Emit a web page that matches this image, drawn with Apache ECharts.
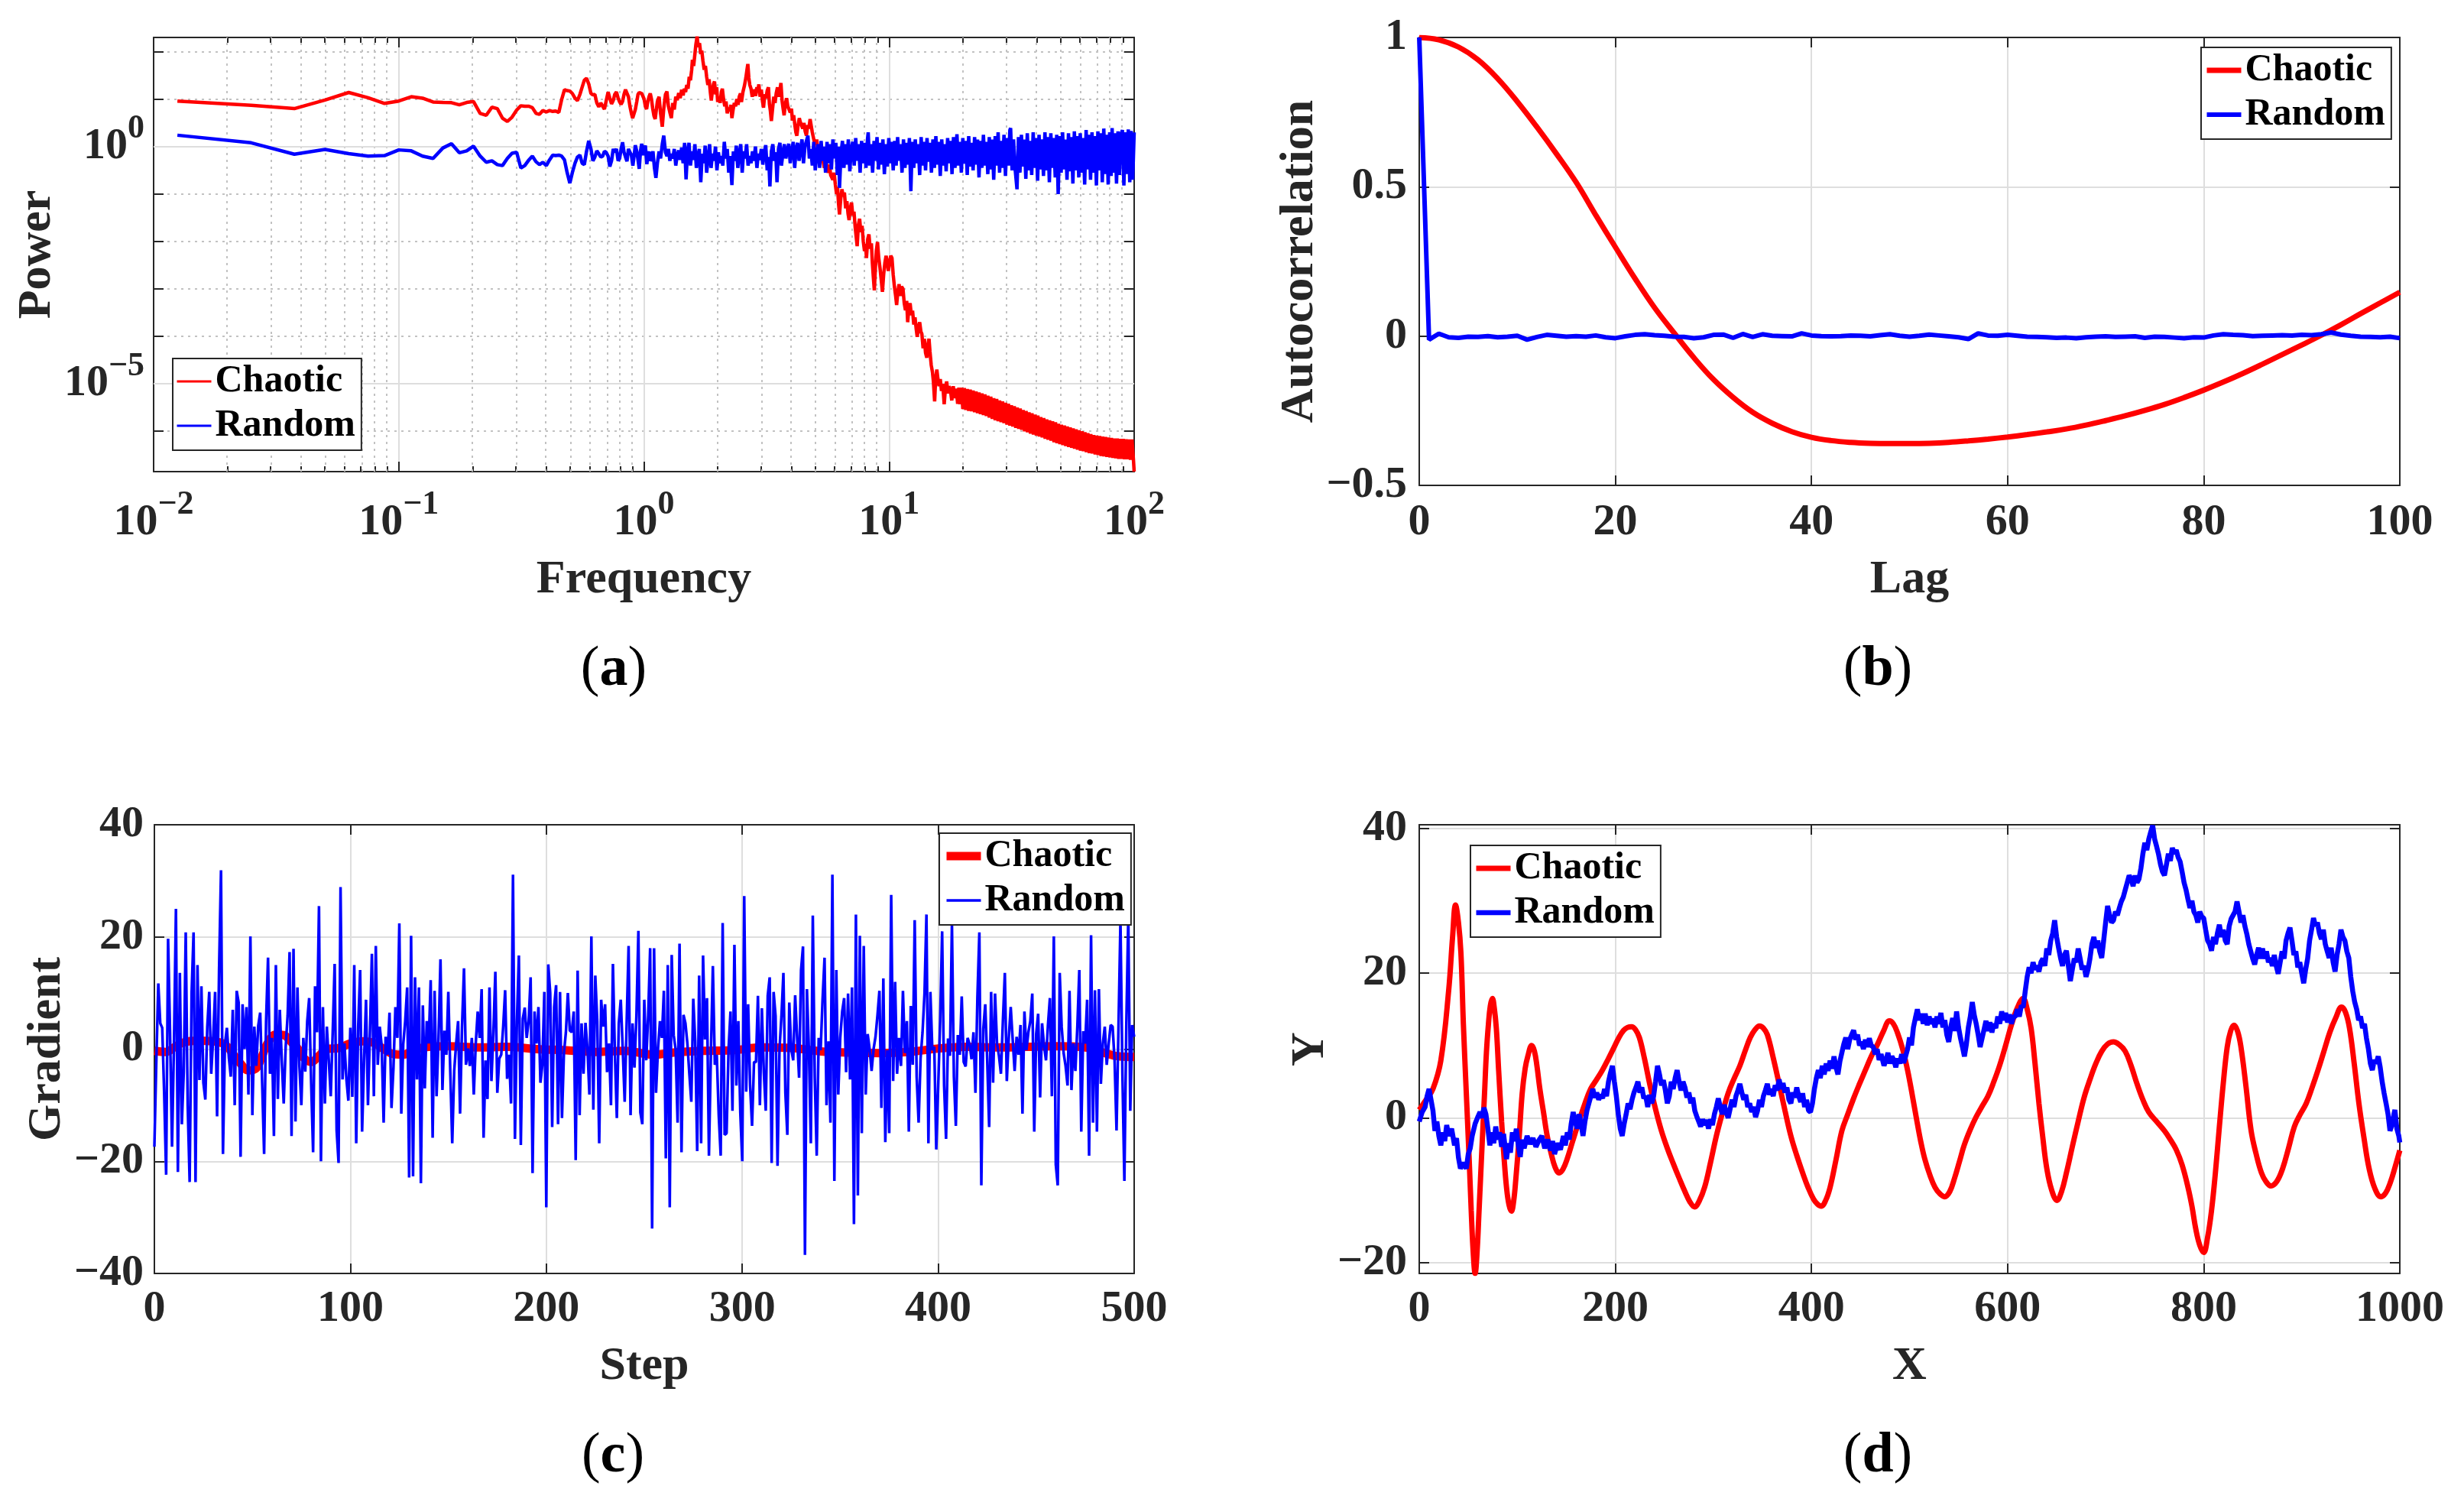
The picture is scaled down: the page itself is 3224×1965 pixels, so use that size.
<!DOCTYPE html>
<html>
<head>
<meta charset="utf-8">
<script src="https://cdn.jsdelivr.net/npm/echarts@6/dist/echarts.min.js"></script>
<style>
html, body { margin: 0; padding: 0; background: #fff; }
#chart { width: 3224px; height: 1965px; }
</style>
</head>
<body>
<div id="chart"></div>
<script>
// ---- (a) power spectra as [log10 frequency, log10 power] ----
const psdChaoticLow = [
  [-1.903,0.96],[-1.602,0.87],[-1.426,0.80],[-1.301,0.98],[-1.204,1.14],[-1.125,1.03],[-1.058,0.91],[-1.0,0.96],
  [-0.949,1.05],[-0.903,1.02],[-0.86,0.94],[-0.82,0.93],[-0.785,0.925],[-0.753,0.88],[-0.723,0.93],[-0.695,0.95],
  [-0.668,0.70],[-0.643,0.66],[-0.62,0.83],[-0.598,0.80],[-0.577,0.60],[-0.557,0.53],[-0.538,0.62],[-0.519,0.77],
  [-0.502,0.86],[-0.486,0.85],[-0.469,0.85],[-0.455,0.82],[-0.44,0.70],[-0.426,0.68],[-0.412,0.76],[-0.398,0.73],
  [-0.385,0.76],[-0.372,0.74],[-0.36,0.75],[-0.347,0.72],[-0.336,0.98],[-0.324,1.20],[-0.313,1.18],[-0.302,1.17],
  [-0.292,1.12],[-0.281,1.02],[-0.271,0.97],[-0.261,1.10],[-0.252,1.25],[-0.243,1.40],[-0.234,1.44],[-0.225,1.32],
  [-0.216,1.12],[-0.208,1.09],[-0.2,1.10],[-0.192,0.92],[-0.184,0.84],[-0.176,0.92],[-0.168,0.85],[-0.161,0.79],
  [-0.154,0.96],[-0.146,1.15],[-0.139,1.02],[-0.132,0.90],[-0.125,0.97],[-0.119,1.10],[-0.112,1.15],[-0.105,1.02],
  [-0.099,0.94],[-0.093,0.89],[-0.087,0.95],[-0.081,1.10],[-0.075,1.20],[-0.069,1.23],[-0.063,1.05],[-0.057,0.85],
  [-0.051,0.70],[-0.046,0.60],[-0.04,0.58],[-0.035,0.78],[-0.029,0.95],[-0.024,1.10],[-0.019,1.14],[-0.014,1.14],
  [-0.009,1.12],[-0.004,1.09],[0.001,1.0],[0.006,0.85],[0.011,0.79],[0.016,0.95],[0.021,1.05],[0.026,1.12],
  [0.031,1.0],[0.036,0.80],[0.041,0.65],[0.046,0.58],[0.05,0.60]
];
const psdChaoticMid = [
  [0.055,0.95],[0.062,1.05],[0.068,0.70],[0.075,0.42],[0.081,0.80],[0.088,1.10],[0.094,1.16],[0.100,0.85],
  [0.106,0.72],[0.112,0.60],[0.118,0.92],[0.124,0.78],[0.130,1.05],[0.136,0.98],[0.142,1.13],[0.148,1.02],
  [0.154,1.20],[0.160,1.08],[0.165,1.22],[0.170,1.15],[0.175,1.30],[0.180,1.22],[0.185,1.47],[0.190,1.40],
  [0.195,1.62],[0.198,1.83],[0.203,1.70],[0.208,1.95],[0.212,2.15],[0.217,2.32],[0.222,2.10],[0.227,2.18],
  [0.232,1.95],[0.236,2.02],[0.241,1.80],[0.246,1.62],[0.251,1.70],[0.256,1.47],[0.261,1.30],[0.266,1.42],
  [0.271,1.15],[0.275,0.97],[0.280,1.20],[0.284,1.32],[0.288,1.37],[0.293,1.10],[0.297,1.25],[0.301,0.94],
  [0.306,1.05],[0.311,0.92],[0.316,1.15],[0.320,1.22],[0.325,1.00],[0.330,0.85],[0.335,0.95],[0.340,0.70],
  [0.345,0.82],[0.350,0.75],[0.355,0.88],[0.359,0.60],[0.364,0.78],[0.369,0.92],[0.374,0.85],[0.379,1.00],
  [0.384,0.88],[0.389,1.05],[0.394,1.12],[0.398,0.94],[0.404,1.15],[0.410,1.28],[0.416,1.45],[0.420,1.60],
  [0.424,1.74],[0.428,1.45],[0.432,1.30],[0.437,1.22],[0.442,1.05],[0.447,1.20],[0.452,1.15],[0.456,1.07],
  [0.461,1.25],[0.465,1.18],[0.469,1.31],[0.474,1.05],[0.479,1.20],[0.484,0.95],[0.488,0.82],[0.493,1.10],
  [0.498,1.02],[0.503,1.18],[0.508,1.25],[0.512,0.90],[0.516,0.75],[0.520,0.54],[0.525,0.80],[0.530,1.05],
  [0.535,0.92],[0.540,1.13],[0.545,1.25],[0.550,1.05],[0.555,1.20],[0.559,1.34],[0.564,0.95],[0.568,0.80],
  [0.572,0.66],[0.577,0.90],[0.582,1.02],[0.587,0.85],[0.592,0.88],[0.597,0.72],[0.602,0.80],[0.606,0.55],
  [0.611,0.66],[0.616,0.45],[0.620,0.30],[0.624,0.23],[0.629,0.45],[0.634,0.60],[0.638,0.52],[0.643,0.54],
  [0.648,0.38],[0.653,0.50],[0.658,0.32],[0.663,0.23],[0.668,0.45],[0.673,0.38],[0.678,0.58],[0.682,0.60],
  [0.687,0.30],[0.691,0.20],[0.695,0.11],[0.700,0.05],[0.705,0.15],[0.710,-0.10],[0.716,-0.25],[0.721,-0.32],
  [0.726,-0.15],[0.731,-0.30],[0.736,-0.45],[0.742,-0.28],[0.747,-0.44],[0.752,-0.55],[0.757,-0.38],[0.762,-0.60],
  [0.766,-0.63],[0.771,-0.70],[0.776,-0.55],[0.781,-0.80],[0.786,-1.00],[0.790,-0.85],[0.794,-1.20],[0.798,-1.43],
  [0.803,-1.10],[0.808,-0.90],[0.813,-1.05],[0.818,-0.97],[0.823,-1.30],[0.828,-1.15],[0.833,-1.42],[0.837,-1.55],
  [0.842,-1.30],[0.847,-1.18],[0.852,-1.45],[0.857,-1.37],[0.862,-1.70],[0.866,-1.90],[0.870,-2.10],[0.875,-1.65],
  [0.880,-1.52],[0.885,-1.80],[0.890,-1.67],[0.895,-2.00],[0.900,-2.20],[0.904,-2.05],[0.908,-2.35],[0.913,-1.95],
  [0.918,-1.85],[0.923,-2.15],[0.928,-2.04],[0.932,-2.45],[0.936,-2.75],[0.940,-3.03],[0.944,-2.60],[0.948,-2.20],
  [0.953,-2.01],[0.958,-2.35],[0.963,-2.55],[0.968,-2.80],[0.973,-3.06],[0.978,-2.70],[0.983,-2.45],[0.988,-2.30],
  [0.992,-2.41],[0.997,-2.62],[1.002,-2.45],[1.007,-2.30],[1.012,-2.35],[1.017,-2.70],[1.022,-2.95],[1.027,-3.15],
  [1.031,-3.34],[1.036,-3.05],[1.041,-2.90],[1.046,-3.15],[1.051,-2.95],[1.057,-3.00],[1.062,-3.30],[1.067,-3.45],
  [1.072,-3.25],[1.076,-3.70],[1.081,-3.40],[1.086,-3.30],[1.091,-3.55],[1.096,-3.46],[1.101,-3.75],[1.106,-3.60],
  [1.111,-3.85],[1.115,-4.01],[1.120,-3.80],[1.125,-3.70],[1.130,-3.90],[1.134,-3.95],[1.139,-4.25],[1.144,-4.05],
  [1.149,-4.35],[1.154,-4.45],[1.158,-4.20],[1.163,-4.05],[1.167,-4.32],[1.172,-4.60],[1.177,-4.75],[1.181,-4.95],
  [1.186,-5.37],[1.190,-4.90],[1.195,-4.70],[1.199,-4.88],[1.204,-5.05],[1.209,-4.90],[1.214,-5.15],[1.219,-5.00],
  [1.225,-5.43],[1.230,-5.10],[1.235,-4.95],[1.240,-5.20],[1.245,-5.05],[1.250,-5.12],[1.256,-5.35],[1.262,-5.05],
  [1.268,-5.30],[1.274,-5.10],[1.280,-5.42],[1.285,-5.08],[1.289,-5.43]
];
const psdChaoticTail = [
  [1.295,-5.08],[1.301,-5.53],[1.307,-5.09],[1.313,-5.55],[1.319,-5.11],[1.325,-5.57],[1.331,-5.12],[1.337,-5.58],
  [1.343,-5.14],[1.349,-5.60],[1.355,-5.16],[1.361,-5.62],[1.367,-5.18],[1.373,-5.64],[1.379,-5.20],[1.385,-5.66],
  [1.391,-5.22],[1.397,-5.68],[1.403,-5.25],[1.409,-5.71],[1.415,-5.27],[1.421,-5.74],[1.427,-5.30],[1.433,-5.77],
  [1.439,-5.32],[1.445,-5.79],[1.451,-5.35],[1.457,-5.81],[1.463,-5.37],[1.469,-5.83],[1.475,-5.40],[1.481,-5.86],
  [1.487,-5.42],[1.493,-5.88],[1.499,-5.45],[1.505,-5.90],[1.511,-5.47],[1.517,-5.93],[1.523,-5.50],[1.529,-5.95],
  [1.535,-5.52],[1.541,-5.97],[1.547,-5.55],[1.553,-6.00],[1.559,-5.57],[1.565,-6.02],[1.571,-5.60],[1.577,-6.05],
  [1.583,-5.62],[1.589,-6.07],[1.595,-5.65],[1.601,-6.09],[1.607,-5.67],[1.613,-6.11],[1.619,-5.70],[1.625,-6.13],
  [1.631,-5.72],[1.637,-6.16],[1.643,-5.75],[1.649,-6.18],[1.655,-5.77],[1.661,-6.20],[1.667,-5.79],[1.673,-6.23],
  [1.679,-5.81],[1.685,-6.25],[1.691,-5.84],[1.697,-6.27],[1.703,-5.86],[1.709,-6.29],[1.715,-5.88],[1.721,-6.31],
  [1.727,-5.90],[1.733,-6.33],[1.739,-5.92],[1.745,-6.35],[1.751,-5.94],[1.757,-6.37],[1.763,-5.96],[1.769,-6.39],
  [1.775,-5.98],[1.781,-6.41],[1.787,-6.00],[1.793,-6.42],[1.799,-6.02],[1.805,-6.44],[1.811,-6.04],[1.817,-6.46],
  [1.823,-6.06],[1.829,-6.47],[1.835,-6.08],[1.841,-6.49],[1.847,-6.09],[1.853,-6.50],[1.859,-6.10],[1.865,-6.52],
  [1.871,-6.11],[1.877,-6.53],[1.883,-6.12],[1.889,-6.54],[1.895,-6.13],[1.901,-6.55],[1.907,-6.14],[1.913,-6.56],
  [1.919,-6.15],[1.925,-6.57],[1.931,-6.15],[1.937,-6.58],[1.943,-6.16],[1.949,-6.58],[1.955,-6.16],[1.961,-6.59],
  [1.967,-6.17],[1.973,-6.59],[1.979,-6.17],[1.985,-6.60],[1.991,-6.17],[1.997,-6.60],[2.0,-6.85]
];
const psdRandomLow = [
  [-1.903,0.24],[-1.602,0.08],[-1.426,-0.16],[-1.301,-0.06],[-1.204,-0.15],[-1.125,-0.2],[-1.058,-0.19],[-1.0,-0.07],
  [-0.949,-0.09],[-0.903,-0.2],[-0.86,-0.25],[-0.82,-0.03],[-0.785,0.06],[-0.753,-0.13],[-0.723,-0.09],[-0.695,0.01],
  [-0.668,-0.2],[-0.643,-0.33],[-0.62,-0.30],[-0.598,-0.38],[-0.577,-0.40],[-0.557,-0.25],[-0.538,-0.14],[-0.519,-0.12],
  [-0.502,-0.45],[-0.486,-0.40],[-0.469,-0.28],[-0.455,-0.2],[-0.44,-0.32],[-0.426,-0.38],[-0.412,-0.33],[-0.398,-0.40],
  [-0.385,-0.28],[-0.372,-0.18],[-0.36,-0.19],[-0.347,-0.18],[-0.336,-0.20],[-0.324,-0.28],[-0.313,-0.55],[-0.302,-0.77],
  [-0.292,-0.55],[-0.281,-0.35],[-0.271,-0.22],[-0.261,-0.18],[-0.252,-0.35],[-0.243,-0.38],[-0.234,-0.10],[-0.225,0.12],
  [-0.216,-0.05],[-0.208,-0.30],[-0.2,-0.22],[-0.192,-0.09],[-0.184,-0.15],[-0.176,-0.22],[-0.168,-0.20],[-0.161,-0.10],
  [-0.154,-0.12],[-0.146,-0.20],[-0.139,-0.42],[-0.132,-0.30],[-0.125,-0.05],[-0.119,-0.12],[-0.112,-0.05],[-0.105,-0.30],
  [-0.099,-0.25],[-0.093,-0.05],[-0.087,0.09],[-0.081,-0.12],[-0.075,-0.22],[-0.069,-0.31],[-0.063,-0.05],[-0.057,-0.02],
  [-0.051,-0.18],[-0.045,-0.40],[-0.04,-0.20],[-0.035,0.03],[-0.029,-0.10],[-0.024,-0.28],[-0.019,-0.47],[-0.014,-0.10],
  [-0.009,0.06],[-0.004,-0.18],[0.001,-0.05],[0.006,0.02],[0.012,-0.37],[0.017,-0.15],[0.022,-0.11],[0.027,-0.30],
  [0.032,-0.26],[0.037,-0.10],[0.043,-0.45],[0.049,-0.66]
];
const psdRandomHigh = [
  [0.055,-0.35],[0.062,-0.10],[0.068,-0.25],[0.075,0.05],[0.081,0.23],[0.088,-0.12],[0.094,-0.20],[0.100,-0.05],
  [0.106,-0.30],[0.112,-0.15],[0.118,-0.25],[0.124,-0.05],[0.130,-0.40],[0.136,-0.18],[0.142,-0.08],[0.148,-0.28],
  [0.154,-0.02],[0.160,-0.35],[0.166,0.08],[0.172,-0.69],[0.178,-0.10],[0.184,0.08],[0.190,-0.40],[0.196,-0.10],
  [0.202,-0.28],[0.208,0.05],[0.214,-0.45],[0.220,-0.20],[0.226,-0.05],[0.232,-0.75],[0.238,-0.15],[0.244,-0.35],
  [0.250,0.02],[0.256,-0.55],[0.262,-0.25],[0.268,0.05],[0.274,-0.45],[0.280,-0.15],[0.286,-0.30],[0.292,0.00],
  [0.298,-0.50],[0.304,-0.12],[0.310,-0.35],[0.316,-0.20],[0.322,-0.40],[0.328,0.10],[0.334,-0.25],[0.340,-0.05],
  [0.346,-0.55],[0.352,-0.20],[0.359,-0.81],[0.365,-0.10],[0.371,-0.30],[0.377,0.02],[0.383,-0.45],[0.389,-0.15],
  [0.395,0.05],[0.401,-0.55],[0.407,-0.10],[0.413,-0.25],[0.419,0.05],[0.425,-0.40],[0.431,-0.20],[0.437,-0.35],
  [0.443,-0.10],[0.449,-0.30],[0.455,0.00],[0.461,-0.45],[0.467,-0.15],[0.473,-0.28],[0.479,-0.05],[0.485,-0.38],
  [0.491,-0.12],[0.497,0.03],[0.503,-0.50],[0.509,-0.22],[0.514,-0.84],[0.520,-0.10],[0.526,0.05],[0.532,-0.30],
  [0.538,-0.12],[0.543,-0.75],[0.549,-0.05],[0.555,0.08],[0.561,-0.40],[0.567,-0.15],[0.573,0.05],[0.579,-0.25],
  [0.585,-0.08],[0.591,0.06],[0.597,-0.35],[0.603,-0.10],[0.609,0.10],[0.615,-0.45],[0.621,-0.05],[0.627,0.08],
  [0.633,-0.30],[0.639,-0.05],[0.645,0.15],[0.651,-0.35],[0.657,0.00],[0.663,0.12],[0.669,0.23],[0.675,-0.25],
  [0.681,-0.05],[0.687,-0.40],[0.693,0.10],[0.699,-0.50],[0.705,-0.15],[0.711,0.05],[0.717,-0.45],[0.723,0.12],
  [0.729,-0.30],[0.735,0.00],[0.741,-0.55],[0.747,0.10],[0.753,-0.35],[0.759,0.05],[0.765,-0.48],[0.771,0.15],
  [0.777,-0.25],[0.783,0.08],[0.789,-0.60],[0.795,0.00],[0.798,-0.87],[0.804,-0.15],[0.810,0.12],[0.816,-0.45],
  [0.822,0.05],[0.828,-0.38],[0.834,0.15],[0.840,-0.52],[0.846,-0.05],[0.852,0.10],[0.858,-0.40],[0.864,0.18],
  [0.870,-0.30],[0.876,0.05],[0.882,-0.55],[0.888,0.12],[0.894,-0.35],[0.900,0.08],[0.906,-0.45],[0.912,0.15],
  [0.915,0.30],[0.921,-0.40],[0.927,0.05],[0.933,-0.55],[0.939,0.12],[0.945,-0.30],[0.951,0.20],[0.957,-0.48],
  [0.963,0.08],[0.969,-0.38],[0.975,0.15],[0.981,-0.58],[0.987,0.05],[0.993,-0.42],[0.999,0.18],[1.005,-0.35],
  [1.011,0.10],[1.017,-0.50],[1.023,0.12],[1.029,-0.40],[1.035,0.20],[1.041,-0.30],[1.047,0.05],[1.053,-0.55],
  [1.059,0.15],[1.065,-0.45],[1.071,0.08],[1.077,-0.38],[1.083,0.18],[1.089,-0.94],[1.095,0.10],[1.101,-0.45],
  [1.107,0.15],[1.113,-0.35],[1.119,0.05],[1.125,-0.60],[1.131,0.20],[1.137,-0.40],[1.143,0.10],[1.149,-0.50],
  [1.155,0.18],[1.161,-0.32],[1.167,0.08],[1.173,-0.55],[1.179,0.15],[1.185,-0.45],[1.191,0.22],[1.197,-0.38],
  [1.203,0.10],[1.209,-0.62],[1.215,0.15],[1.221,-0.40],[1.227,0.05],[1.233,-0.52],[1.239,0.18],[1.245,-0.35],
  [1.251,0.12],[1.257,-0.58],[1.263,0.20],[1.269,-0.45],[1.277,0.26],[1.283,-0.40],[1.289,0.10],[1.295,-0.55],
  [1.301,0.18],[1.307,-0.36],[1.313,0.12],[1.319,-0.60],[1.325,0.22],[1.331,-0.42],[1.337,0.08],[1.343,-0.50],
  [1.349,0.20],[1.355,-0.38],[1.361,0.15],[1.367,-0.65],[1.373,0.12],[1.379,-0.45],[1.385,0.25],[1.391,-0.40],
  [1.397,0.10],[1.403,-0.58],[1.409,0.20],[1.415,-0.48],[1.421,0.15],[1.427,-0.70],[1.433,0.22],[1.439,-0.40],
  [1.445,0.30],[1.451,-0.55],[1.457,0.12],[1.463,-0.45],[1.469,0.25],[1.475,-0.62],[1.481,0.18],[1.487,-0.40],
  [1.493,0.35],[1.496,0.39],[1.502,-0.50],[1.508,0.15],[1.514,-0.45],[1.522,-0.90],[1.528,0.20],[1.534,-0.55],
  [1.540,0.25],[1.546,-0.42],[1.552,0.15],[1.558,-0.68],[1.564,0.28],[1.570,-0.50],[1.576,0.12],[1.582,-0.60],
  [1.588,0.30],[1.594,-0.45],[1.600,0.18],[1.606,-0.72],[1.612,0.25],[1.618,-0.48],[1.624,0.15],[1.630,-0.62],
  [1.636,0.30],[1.642,-0.50],[1.648,0.20],[1.654,-0.75],[1.660,0.28],[1.666,-0.45],[1.672,0.18],[1.678,-0.65],
  [1.684,0.25],[1.690,-1.00],[1.696,0.22],[1.702,-0.55],[1.708,0.30],[1.714,-0.48],[1.720,0.15],[1.726,-0.70],
  [1.732,0.28],[1.738,-0.52],[1.744,0.20],[1.750,-0.78],[1.756,0.32],[1.762,-0.50],[1.768,0.22],[1.774,-0.65],
  [1.780,0.28],[1.786,-0.55],[1.792,0.18],[1.798,-0.80],[1.804,0.35],[1.810,-0.48],[1.816,0.25],[1.822,-0.70],
  [1.828,0.30],[1.834,-0.55],[1.840,0.22],[1.846,-0.82],[1.852,0.32],[1.858,-0.50],[1.864,0.28],[1.870,-0.75],
  [1.876,0.38],[1.882,-0.58],[1.888,0.25],[1.894,-0.80],[1.900,0.30],[1.906,-0.62],[1.910,0.39],[1.916,-0.55],
  [1.922,0.28],[1.928,-0.78],[1.934,0.32],[1.940,-0.60],[1.946,0.25],[1.952,0.35],[1.958,-0.82],[1.964,0.30],
  [1.970,-0.58],[1.976,0.36],[1.982,-0.75],[1.988,0.33],[1.994,-0.70],[2.0,0.30]
];
const psdLabelledExponents = [-5, 0];

// ---- (b) autocorrelation ----
const acfLagsChaotic = [0,2,4,6,8,10,12,14,16,18,20,22,24,26,28,30,32,34,36,38,40,42,44,46,48,50,
  52,54,56,58,60,62,64,66,68,70,72,74,76,78,80,82,84,86,88,90,92,94,96,98,100];
const acfChaotic = [1.000,0.992,0.968,0.925,0.862,0.785,0.700,0.610,0.515,0.405,0.298,0.193,0.095,0.010,
  -0.072,-0.145,-0.205,-0.255,-0.292,-0.320,-0.339,-0.350,-0.356,-0.359,-0.360,-0.360,-0.359,-0.356,-0.351,
  -0.345,-0.338,-0.330,-0.321,-0.311,-0.298,-0.283,-0.267,-0.249,-0.229,-0.206,-0.181,-0.154,-0.125,-0.094,
  -0.062,-0.030,0.003,0.038,0.075,0.111,0.147];
// one value per lag 0..100
const acfRandom = [1.0,-0.012,0.008,-0.004,-0.006,-0.002,-0.003,0.000,-0.004,-0.002,0.001,-0.012,-0.003,0.004,
  0.001,-0.002,0.000,-0.002,0.002,-0.004,-0.007,-0.001,0.004,0.006,0.003,0.001,-0.002,-0.003,-0.007,-0.004,
  0.004,0.005,-0.006,0.007,-0.003,0.006,0.001,0.000,-0.001,0.009,0.002,0.000,-0.001,0.000,0.002,0.001,-0.001,
  0.003,0.006,0.001,-0.002,0.001,0.005,0.002,-0.001,-0.004,-0.010,0.009,0.002,0.001,0.004,0.001,-0.002,-0.003,
  -0.004,-0.006,-0.005,-0.007,-0.004,-0.002,-0.001,-0.003,-0.002,-0.001,-0.006,-0.002,-0.003,-0.005,-0.007,
  -0.004,-0.005,0.002,0.006,0.004,0.003,0.000,0.001,0.002,0.003,0.002,0.004,0.003,0.006,0.012,0.005,0.001,
  -0.002,-0.003,-0.004,-0.002,-0.007];

// ---- (c) gradient per step ----
const gradChaotic = [[0,-0.3],[6,-0.5],[10,0.3],[15,1.2],[22,1.5],[30,1.4],[36,0.8],[40,-0.8],[44,-2.6],
  [48,-3.8],[52,-3.4],[55,-1.2],[58,1.2],[62,2.6],[66,2.5],[70,1.2],[73,0.2],[76,-1.5],[80,-2.3],[84,-1.2],
  [88,0.0],[94,0.2],[100,1.0],[106,1.4],[112,1.1],[117,0.0],[122,-0.9],[127,-1.0],[132,-0.2],[140,0.4],
  [150,0.5],[165,0.3],[180,0.4],[195,0.0],[210,-0.2],[225,-0.5],[240,-0.3],[255,-1.0],[265,-0.6],[280,-0.3],
  [295,-0.2],[310,0.3],[325,0.2],[340,-0.4],[355,-0.6],[370,-0.7],[385,-0.5],[400,0.1],[415,0.4],[430,0.3],
  [445,0.4],[460,0.5],[475,0.3],[485,-0.7],[492,-1.3],[500,-1.4]];
// one value per step 0..500
const gradRandom = [
  -17.4,-2.0,11.7,4.6,3.8,-8.0,-22.4,19.7,3.0,-17.4,0.9,25.0,-21.9,13.6,-13.4,-4.0,20.8,-10.0,-23.7,10.0,
  20.8,-23.7,15.0,-5.5,11.2,-6.0,-9.0,4.0,10.2,-4.4,2.0,10.2,-12.0,14.0,31.9,-18.7,0.9,3.8,-1.5,-4.9,
  7.0,-10.0,10.4,8.3,-19.2,8.0,0.0,7.5,-8.1,20.1,-11.8,4.0,-3.0,4.2,6.5,-6.0,-18.7,5.0,16.3,-4.4,
  2.0,-15.5,15.0,-8.9,7.0,-2.0,-9.7,0.4,6.0,17.3,-15.5,17.9,-12.9,11.0,-3.0,-10.0,2.0,-4.0,5.0,9.1,
  -6.0,-18.4,11.2,3.0,25.5,-20.0,7.5,-9.7,4.0,-2.0,-8.4,3.0,15.2,-14.5,-20.3,28.9,-5.4,1.0,-5.4,-9.2,
  3.8,-8.5,15.0,-16.8,4.0,14.1,-14.7,-2.0,8.8,-10.0,3.0,17.0,-8.4,18.4,-2.8,4.0,0.6,-13.1,2.2,-1.0,
  6.5,-10.5,-3.4,7.5,2.0,22.4,-11.5,0.9,5.0,11.0,-22.9,20.2,-22.7,12.8,-5.4,11.0,-23.9,7.8,-7.0,5.0,
  1.0,12.3,-15.8,10.4,-8.4,2.0,16.0,-7.3,3.3,-1.0,10.2,-4.0,-16.8,-3.9,1.0,5.0,-11.5,4.0,14.4,-2.8,
  0.1,-3.0,2.0,-8.1,1.0,6.7,2.0,10.7,-15.8,-2.0,-8.9,11.0,-5.7,3.0,13.8,-7.8,-1.7,-1.0,4.0,10.5,
  -5.3,-1.0,-9.7,31.1,-16.0,4.9,16.7,-17.1,5.4,7.4,2.0,5.0,12.8,-22.1,6.7,1.0,7.5,-6.0,-2.8,10.2,
  -28.2,15.1,10.0,-13.9,7.5,11.4,-13.4,10.2,-12.3,-0.7,3.0,10.0,3.3,3.0,6.7,-19.8,14.0,-11.8,4.6,-4.4,
  4.7,0.0,-8.1,20.1,-10.8,13.1,5.0,-16.8,8.8,4.0,8.0,-4.1,1.0,-10.0,15.2,-0.7,-12.3,4.6,8.8,0.0,
  -9.4,4.6,18.4,-11.8,4.6,-3.3,6.0,21.1,-11.3,-13.4,8.8,-2.0,6.0,18.0,-32.0,18.0,-7.8,0.0,5.0,2.0,
  10.4,-19.5,15.0,-28.2,16.8,2.5,0.0,-13.1,18.8,-18.4,6.1,4.6,1.0,-4.4,-9.4,9.0,1.4,-18.2,13.1,-16.8,
  16.7,1.7,9.1,-19.0,-0.9,14.8,-2.8,-1.0,-11.8,-19.0,22.5,-15.3,-15.0,0.0,6.7,-11.0,18.6,-6.5,5.0,-11.3,
  -20.0,27.3,-7.6,8.0,-6.5,-13.7,-2.3,-2.3,9.5,-10.0,7.3,-4.1,-11.0,9.5,12.8,-20.3,10.2,5.9,-20.8,0.0,
  5.9,13.6,-7.8,-15.3,8.3,0.0,-2.0,9.6,2.0,-5.1,14.1,18.3,-36.7,10.7,0.0,-16.8,23.8,-5.0,-19.0,2.0,
  -0.2,9.0,16.3,-10.0,1.4,-13.1,31.1,-23.5,14.1,-8.1,2.0,6.7,9.1,-4.1,9.9,-5.4,11.0,-31.2,24.0,-26.1,
  20.2,-15.0,18.4,-8.1,2.7,0.0,-3.9,0.0,2.2,6.0,10.4,-10.5,12.6,-16.6,-0.2,-15.0,27.5,-5.7,12.0,-4.4,
  2.0,-3.0,10.4,-0.7,5.0,-14.7,7.7,-2.8,23.0,-4.9,-13.1,-1.7,3.0,9.9,24.0,-16.8,10.2,-0.2,0.4,-17.9,
  -6.5,5.0,21.0,-6.5,-16.0,1.9,-1.2,22.4,-4.9,-13.7,2.5,-1.0,9.4,-2.3,-3.1,2.0,0.9,-1.8,3.0,-7.8,
  9.3,20.8,-24.3,3.6,8.0,-2.0,-13.9,10.2,-6.0,9.9,1.0,-1.2,-4.4,5.0,13.6,-5.7,2.0,7.5,1.7,-3.9,
  2.2,-1.0,4.3,-11.5,6.7,-0.2,3.0,5.0,9.9,-14.7,2.7,6.3,-8.6,4.6,0.6,-2.0,4.3,9.1,-8.4,20.1,
  -20.6,-24.3,13.6,4.0,-0.7,-3.0,-6.5,10.4,-7.3,1.0,-3.9,4.0,14.1,-14.7,3.2,1.0,8.8,-19.0,20.3,-13.1,
  10.5,-14.7,10.7,-6.2,1.0,4.0,-2.8,1.0,4.3,4.0,-2.0,-14.5,4.0,22.9,-4.4,-23.5,4.6,23.7,-11.0,4.3,2.2
];

// ---- (d) trajectories [X, Y] ----
const trajChaotic = [
  [0,1.1],[7,2.5],[14,4.0],[22,7.9],[30,17.6],[34,25.0],[37,29.4],[40,27.0],[42.5,22.8],[45,13.0],[48,3.4],
  [51,-6.0],[53,-12.8],[55,-18.5],[57,-21.5],[59,-18.5],[61,-12.8],[64,-4.0],[66.6,3.4],[68.5,9.0],[70.6,13.0],
  [72.5,15.5],[74.6,16.5],[76.5,15.2],[78.6,12.4],[81,6.5],[84,-0.5],[86.5,-5.5],[89,-9.6],[91.5,-12.0],[94,-12.9],
  [96.3,-11.5],[98.6,-8.3],[102,-2.5],[105,3.4],[108,6.8],[110.7,8.5],[114.7,10.0],[117.5,9.2],[120,7.2],[123,4.0],
  [126.7,0.8],[130.5,-2.5],[134.7,-5.0],[138.5,-6.8],[142.7,-7.6],[146.5,-7.1],[150.8,-5.7],[156.5,-3.2],
  [162.8,-0.5],[168.5,1.8],[174.8,4.0],[180.5,5.2],[186.8,6.6],[193,8.2],[198.9,9.8],[204,11.2],[208.5,12.1],
  [212.5,12.5],[216.5,12.6],[220.5,12.2],[224.5,11.1],[229.5,8.3],[235,4.7],[241,1.2],[247,-1.8],[253,-4.2],
  [259,-6.3],[265,-8.3],[271,-10.2],[276,-11.6],[280.7,-12.3],[285.5,-11.5],[291,-9.6],[297,-6.2],[303,-2.5],
  [309,0.6],[315,3.4],[321,5.4],[327,7.2],[332.5,9.3],[337.6,11.1],[342.5,12.2],[347,12.7],[351,12.4],[355,11.5],
  [361,8.3],[367,4.7],[373,1.0],[379,-2.5],[385,-5.2],[391,-7.6],[396.5,-9.6],[402,-11.2],[406,-11.9],[410,-12.2],
  [414.5,-11.4],[419,-9.6],[425,-5.8],[431,-1.8],[437,0.5],[443,2.7],[449,4.7],[455,6.6],[461,8.5],[467.5,10.2],
  [473.5,12.0],[479.5,13.4],[483.5,13.0],[487.6,11.8],[493,9.5],[498,6.6],[503,3.0],[507.6,-0.5],[511.5,-3.3],
  [515.6,-5.7],[521,-8.0],[526,-9.6],[531,-10.5],[535.7,-10.9],[541,-10.2],[546,-8.3],[551,-6.0],[555.7,-3.8],
  [562,-1.6],[567.8,0.1],[574,1.6],[580,3.0],[586,5.0],[591.8,7.2],[598,10.0],[603.8,12.8],[610,15.2],[615.9,16.5],
  [620,15.0],[624,12.4],[628,7.5],[632,2.0],[636,-2.8],[640,-7.0],[645,-10.0],[650.4,-11.4],[655,-10.2],[660,-7.6],
  [666,-4.0],[672,-0.5],[678,2.8],[684,5.3],[690,7.5],[696,9.2],[702,10.2],[708,10.5],[714,10.1],[720,9.2],
  [726,7.2],[732,4.7],[738,2.5],[744,0.8],[752,-0.5],[760,-1.8],[766,-3.0],[772,-4.4],[778,-6.5],[784,-9.6],
  [788,-12.2],[792,-15.4],[796,-17.6],[800,-18.6],[804,-16.5],[808,-12.8],[812,-7.5],[816,-1.2],[820,4.8],
  [824,9.8],[827.5,12.0],[830.8,12.8],[834.5,12.0],[838,9.8],[843,4.5],[848.4,-1.8],[853.5,-5.0],[858.9,-7.6],
  [863.5,-8.8],[868.5,-9.4],[874.5,-8.8],[880.5,-7.0],[886.5,-4.2],[892.5,-1.2],[898.5,0.5],[904.6,2.0],
  [910.6,4.2],[916.6,6.6],[922.6,9.2],[928.6,11.8],[934.6,13.8],[940.6,15.3],[944.6,14.6],[948.7,12.4],
  [953.5,7.5],[958.3,2.0],[963.5,-2.8],[968.7,-7.0],[974.7,-9.8],[980.7,-10.9],[985.5,-10.4],[990.4,-8.9],
  [995.2,-6.8],[1000,-4.5]
];
const trajRandom = [
  [0,-0.5],[3,0.8],[6,1.5],[8,3.0],[10,4.0],[12,2.5],[14,1.0],[16,-1.8],[18,-0.5],[20,-2.5],[22,-3.8],[24,-2.0],
  [26,-3.2],[28,-1.0],[30,-2.5],[33,-1.5],[36,-3.8],[38,-2.8],[40,-5.5],[42,-7.0],[45,-6.2],[48,-7.0],[50,-5.0],
  [52,-4.2],[54,-2.5],[57,-0.8],[60,0.2],[62,0.8],[64,0.0],[66,1.4],[68,0.5],[70,-1.5],[72,-3.8],[74,-2.0],
  [76,-3.5],[78,-1.2],[80,-3.0],[82,-2.0],[84,-4.0],[86,-2.2],[89,-5.7],[91,-3.5],[93,-4.8],[95,-2.0],[97,-3.2],
  [99,-1.5],[101,-3.8],[103,-5.4],[105,-3.0],[107,-4.2],[110,-2.5],[113,-3.6],[116,-2.8],[119,-4.0],[122,-3.1],
  [125,-2.5],[128,-4.2],[131,-3.0],[134,-4.5],[136,-3.2],[138,-5.0],[141,-3.5],[144,-4.4],[147,-2.5],[149,-3.8],
  [151,-2.0],[153,-3.0],[155,-0.8],[157,0.8],[159,-0.5],[161,-1.5],[163,0.5],[165,-0.8],[167,-2.5],[169,-0.5],
  [171,1.0],[173,2.0],[175,3.0],[177,4.0],[179,2.8],[181,3.5],[183,2.5],[185,3.2],[187,2.7],[189,4.0],[191,3.0],
  [193,5.0],[195,6.2],[197,7.2],[199,5.0],[201,3.0],[203,0.5],[205,-1.5],[207,-2.5],[209,-0.8],[211,0.5],
  [213,2.0],[215,1.2],[217,2.5],[219,3.5],[221,4.2],[223,5.0],[225,3.5],[227,4.2],[229,2.7],[231,3.0],[233,1.5],
  [235,3.2],[237,2.0],[239,3.0],[241,5.0],[243,7.2],[245,6.0],[247,4.5],[249,5.2],[251,3.8],[253,2.0],[255,3.0],
  [257,5.0],[259,4.0],[261,5.5],[263,6.6],[265,5.0],[267,3.8],[269,5.0],[271,4.2],[273,2.8],[275,3.5],[277,2.0],
  [279,2.8],[281,1.0],[283,0.2],[285,-0.5],[287,-1.2],[289,-0.2],[291,-1.0],[293,-0.3],[295,-1.5],[297,-0.2],
  [299,-1.0],[301,0.5],[303,1.5],[305,2.7],[307,1.5],[309,0.5],[311,1.8],[313,0.8],[315,0.0],[317,1.2],[319,2.5],
  [321,1.5],[323,3.0],[325,3.8],[327,4.7],[329,3.5],[331,2.5],[333,3.2],[335,1.5],[337,2.0],[339,0.8],[341,1.5],
  [343,0.1],[345,1.0],[347,2.5],[349,1.5],[351,3.0],[353,3.8],[355,4.7],[357,3.2],[359,4.0],[361,3.0],[363,4.5],
  [365,3.8],[367,5.3],[369,4.0],[371,4.8],[373,3.5],[375,4.2],[377,2.5],[379,2.0],[381,3.5],[383,2.8],[385,4.2],
  [387,3.0],[389,2.2],[391,3.4],[393,1.5],[395,2.5],[397,1.0],[399,0.8],[401,2.0],[403,4.0],[405,5.5],[407,6.6],
  [409,5.5],[411,7.2],[413,6.0],[415,7.5],[417,6.5],[419,7.9],[421,6.8],[423,8.5],[425,7.0],[427,6.0],[429,7.8],
  [431,9.0],[433,10.2],[435,11.1],[437,9.5],[439,10.8],[441,11.5],[443,12.1],[445,10.8],[447,11.5],[449,10.0],
  [451,10.5],[453,9.5],[455,10.8],[457,9.8],[459,11.0],[461,10.0],[463,9.8],[465,8.8],[467,9.5],[469,8.0],
  [471,8.8],[474,7.2],[476,8.0],[478,9.0],[480,7.5],[482,8.5],[484,8.0],[486,7.0],[488,8.2],[490,7.5],[492,8.8],
  [494,7.6],[496,8.5],[498,9.5],[500,11.1],[502,10.0],[504,12.5],[506,13.8],[508,15.0],[510,13.5],[512,14.4],
  [514,13.0],[516,14.4],[518,12.8],[520,14.0],[522,13.0],[524,13.7],[526,12.5],[528,14.0],[530,13.0],[532,14.5],
  [534,12.5],[536,13.5],[538,11.5],[540,10.5],[542,12.5],[544,13.8],[546,12.0],[548,14.7],[550,12.5],[552,11.0],
  [554,9.8],[556,8.5],[558,10.2],[560,12.5],[562,14.0],[564,16.0],[566,14.2],[568,13.0],[570,11.5],[572,9.8],
  [574,11.0],[576,12.2],[578,13.4],[580,12.0],[582,13.2],[584,11.8],[586,13.0],[588,12.4],[590,14.0],[592,13.0],
  [594,14.7],[596,13.5],[598,14.5],[600,13.2],[602,14.3],[604,13.0],[606,14.0],[608,14.0],[610,15.0],[612,14.0],
  [614,15.5],[616,15.3],[618,17.5],[620,19.5],[622,20.8],[624,20.0],[626,21.5],[628,20.5],[630,21.0],[632,20.2],
  [634,21.5],[636,22.0],[638,21.0],[640,23.4],[642,22.5],[644,24.5],[646,25.5],[648,27.3],[650,25.0],[652,23.5],
  [654,22.1],[656,21.0],[658,22.5],[660,23.1],[662,21.0],[664,18.9],[666,20.5],[668,22.0],[670,21.5],[672,23.4],
  [674,22.0],[676,20.5],[678,21.0],[680,19.5],[682,20.5],[684,22.0],[686,24.0],[688,25.0],[690,23.5],[692,24.5],
  [694,23.0],[696,22.1],[698,24.5],[700,27.0],[702,29.3],[704,28.0],[706,27.0],[708,27.3],[710,28.5],[712,28.0],
  [714,29.0],[716,29.9],[718,30.5],[720,31.5],[722,32.5],[724,33.5],[726,33.0],[728,32.0],[730,33.5],[732,32.5],
  [734,33.0],[736,34.5],[738,36.5],[740,38.0],[742,37.0],[744,38.5],[746,39.5],[748,40.4],[750,38.5],[752,37.5],
  [754,36.4],[756,35.0],[758,34.0],[760,33.5],[762,35.0],[764,36.5],[766,35.5],[768,37.3],[770,36.5],[772,37.0],
  [774,36.0],[776,35.4],[778,34.0],[780,32.5],[782,31.5],[784,30.2],[786,29.0],[788,30.0],[790,28.5],[792,28.0],
  [794,27.0],[796,28.5],[798,27.8],[800,27.6],[802,26.0],[804,24.5],[806,24.0],[808,23.1],[810,25.0],[812,24.0],
  [814,25.5],[816,26.7],[818,25.0],[820,26.0],[822,24.5],[824,24.0],[826,26.5],[828,27.5],[830,28.0],[832,28.5],
  [834,29.9],[836,28.5],[838,27.0],[840,28.0],[842,26.5],[844,25.4],[846,24.0],[848,23.0],[850,22.0],[852,21.2],
  [854,22.5],[856,23.5],[858,22.0],[860,23.4],[862,22.0],[864,23.0],[866,21.5],[868,22.1],[870,21.0],[872,22.5],
  [874,21.0],[876,19.9],[878,21.5],[880,23.0],[882,22.0],[884,24.5],[886,25.5],[888,26.3],[890,24.5],[892,22.5],
  [894,23.0],[896,20.8],[898,21.5],[900,20.0],[902,18.6],[904,20.5],[906,22.0],[908,24.5],[910,26.0],[912,27.6],
  [914,26.5],[916,27.0],[918,25.5],[920,24.7],[922,26.0],[924,24.0],[926,23.0],[928,22.1],[930,23.5],[932,21.5],
  [934,20.2],[936,22.5],[938,24.0],[940,26.0],[942,25.0],[944,24.5],[946,23.0],[948,22.1],[950,19.5],[952,17.5],
  [954,16.0],[956,15.0],[958,13.5],[960,14.0],[962,12.4],[964,13.0],[966,11.0],[968,9.5],[970,7.5],[972,6.6],
  [974,8.0],[976,7.5],[978,8.5],[980,7.0],[982,5.0],[984,3.4],[986,2.0],[988,0.5],[990,-1.8],[992,-1.0],
  [994,0.5],[995,1.1],[997,-1.5],[999,-2.5],[1000,-3.4]
];

const panelTags = ['a', 'b', 'c', 'd'];

// ---- styling ----
const FONT = '"Liberation Serif", "Times New Roman", serif';
const INK = '#262626';
const RED = '#ff0000';
const BLUE = '#0000ff';
const GRID_MAJOR = '#dedede';
const GRID_MINOR = '#c2c2c2';

const grids = [
  { left: 201, top: 49, width: 1283, height: 568 },
  { left: 1857, top: 49, width: 1283, height: 586 },
  { left: 202, top: 1079, width: 1282, height: 587 },
  { left: 1857, top: 1079, width: 1283, height: 587 }
];

const minus = (v) => String(v).replace('-', '\u2212');
const power10 = (v) => '{base|10}{exp|' + minus(v) + '}';
const powerRich = {
  base: { fontFamily: FONT, fontWeight: 'bold', fontSize: 58, lineHeight: 60, color: INK },
  exp: { fontFamily: FONT, fontWeight: 'bold', fontSize: 44, lineHeight: 48, color: INK,
         padding: [0, 0, 31, 0], verticalAlign: 'bottom' }
};

function axisPair(gridIndex, isX, cfg) {
  const shared = { type: 'value', gridIndex, min: cfg.min, max: cfg.max };
  if (cfg.interval != null) shared.interval = cfg.interval;
  if (cfg.splitNumber != null) shared.splitNumber = cfg.splitNumber;
  const line = { show: true, onZero: false, lineStyle: { color: INK, width: 2 } };
  const tick = { show: true, inside: true, length: 13, lineStyle: { color: INK, width: 2 } };
  const main = Object.assign({}, shared, {
    position: isX ? 'bottom' : 'left',
    name: cfg.name, nameLocation: 'middle', nameGap: cfg.nameGap,
    nameTextStyle: { color: INK, fontFamily: FONT, fontWeight: 'bold', fontSize: 62, lineHeight: 62 },
    axisLine: line, axisTick: tick,
    axisLabel: Object.assign({ color: INK, fontFamily: FONT, fontWeight: 'bold', fontSize: 58,
      lineHeight: 58, margin: cfg.margin, formatter: cfg.formatter }, cfg.label || {}),
    splitLine: { show: true, lineStyle: cfg.split || { color: GRID_MAJOR, width: 2 } }
  });
  const mirror = Object.assign({}, shared, {
    position: isX ? 'top' : 'right',
    axisLine: line, axisTick: tick,
    axisLabel: { show: false }, splitLine: { show: false }
  });
  return [main, mirror];
}

// minor decade positions of the log-log panel (2..9 × each decade)
const minorX = [];
[-2, -1, 0, 1].forEach((d) => {
  for (let k = 2; k <= 9; k++) minorX.push(d + Math.log10(k));
});

function minorTickAxis(position) {
  return {
    type: 'value', gridIndex: 0, min: -2, max: 2, interval: 1, position,
    axisLine: { show: false, onZero: false }, axisLabel: { show: false }, splitLine: { show: false },
    axisTick: { show: true, inside: true, length: 7, customValues: minorX,
      lineStyle: { color: INK, width: 2 } }
  };
}

const xAxis = [].concat(
  axisPair(0, true, { min: -2, max: 2, interval: 1, name: 'Frequency', nameGap: 111, margin: 37,
    formatter: power10, label: { rich: powerRich } }),
  axisPair(1, true, { min: 0, max: 100, interval: 20, name: 'Lag', nameGap: 93, margin: 20, formatter: minus }),
  axisPair(2, true, { min: 0, max: 500, interval: 100, name: 'Step', nameGap: 91, margin: 18, formatter: minus }),
  axisPair(3, true, { min: 0, max: 1000, interval: 200, name: 'X', nameGap: 91, margin: 18, formatter: minus }),
  [minorTickAxis('bottom'), minorTickAxis('top')]
);
const yAxis = [].concat(
  axisPair(0, false, { min: -6.85, max: 2.3, splitNumber: 9, name: 'Power', nameGap: 112, margin: 12,
    formatter: (v) => psdLabelledExponents.indexOf(v) >= 0 ? power10(v) : '',
    label: { rich: powerRich },
    split: { color: GRID_MINOR, width: 2, type: [3, 6] } }),
  axisPair(1, false, { min: -0.5, max: 1, interval: 0.5, name: 'Autocorrelation', nameGap: 109, margin: 16,
    formatter: minus }),
  axisPair(2, false, { min: -40, max: 40, interval: 20, name: 'Gradient', nameGap: 99, margin: 14,
    formatter: minus }),
  axisPair(3, false, { min: -21.5, max: 40.5, splitNumber: 3, name: 'Y', nameGap: 99, margin: 16,
    formatter: (v) => (v % 20 === 0 ? minus(v) : '') })
);

const psdGrid = {
  silent: true, z: 1, animation: false, symbol: ['none', 'none'], label: { show: false },
  emphasis: { disabled: true },
  lineStyle: { color: GRID_MINOR, width: 2, type: [3, 6] },
  data: minorX.map((v) => ({ xAxis: v })).concat(psdLabelledExponents.map((e) => ({
    yAxis: e, lineStyle: { color: GRID_MAJOR, width: 2, type: 'solid' } })))
};

function line(name, gi, data, color, width, extra) {
  return Object.assign({
    name, type: 'line', xAxisIndex: gi * 2, yAxisIndex: gi * 2, data,
    symbol: 'none', showSymbol: false, animation: false, clip: true, z: 3,
    lineStyle: { color, width }, itemStyle: { color },
    emphasis: { disabled: true }
  }, extra || {});
}

const series = [
  line('Chaotic a', 0, psdChaoticLow.concat(psdChaoticMid, psdChaoticTail), RED, 4.5, { markLine: psdGrid }),
  line('Random a', 0, psdRandomLow.concat(psdRandomHigh), BLUE, 4.5),
  line('Chaotic b', 1, acfLagsChaotic.map((l, i) => [l, acfChaotic[i]]), RED, 7, { smooth: 0.4 }),
  line('Random b', 1, acfRandom.map((v, i) => [i, v]), BLUE, 6),
  line('Chaotic c', 2, gradChaotic, RED, 11, { smooth: 0.4 }),
  line('Random c', 2, gradRandom.map((v, i) => [i, v]), BLUE, 3.5),
  line('Chaotic d', 3, trajChaotic, RED, 7, { smooth: 0.4 }),
  line('Random d', 3, trajRandom, BLUE, 6.5)
];

function legendAt(left, top, tag, widths) {
  return {
    left, top, orient: 'vertical', selectedMode: false,
    data: [
      { name: 'Chaotic ' + tag, lineStyle: { width: widths[0] } },
      { name: 'Random ' + tag, lineStyle: { width: widths[1] } }
    ],
    itemWidth: 45, itemHeight: 20, itemGap: 2,
    padding: [2, 8, 4, 4],
    backgroundColor: '#fff', borderColor: INK, borderWidth: 2,
    formatter: (n) => n.split(' ')[0],
    itemStyle: { opacity: 0 },
    textStyle: { color: '#000', fontFamily: FONT, fontWeight: 'bold', fontSize: 50, lineHeight: 56 }
  };
}

const tagPos = [[803, 877], [2457, 877], [802, 1906], [2457, 1906]];

const chart = echarts.init(document.getElementById('chart'), null, { renderer: 'canvas' });
chart.setOption({
  animation: false,
  backgroundColor: '#fff',
  grid: grids,
  xAxis,
  yAxis,
  legend: [
    legendAt(226, 469, 'a', [3, 3]),
    legendAt(2880, 62, 'b', [7, 6]),
    legendAt(1229, 1090, 'c', [11, 3.5]),
    legendAt(1924, 1106, 'd', [7, 6.5])
  ],
  graphic: panelTags.map((t, i) => ({
    type: 'text', x: tagPos[i][0], y: tagPos[i][1], silent: true,
    style: {
      text: '{p|(}{l|' + t + '}{p|)}',
      textAlign: 'center', textVerticalAlign: 'middle', align: 'center', verticalAlign: 'middle',
      rich: {
        p: { fontFamily: FONT, fontSize: 74, lineHeight: 80, fill: '#000', color: '#000' },
        l: { fontFamily: FONT, fontSize: 74, lineHeight: 80, fontWeight: 'bold', fill: '#000', color: '#000' }
      }
    }
  })),
  series
});
</script>
</body>
</html>
